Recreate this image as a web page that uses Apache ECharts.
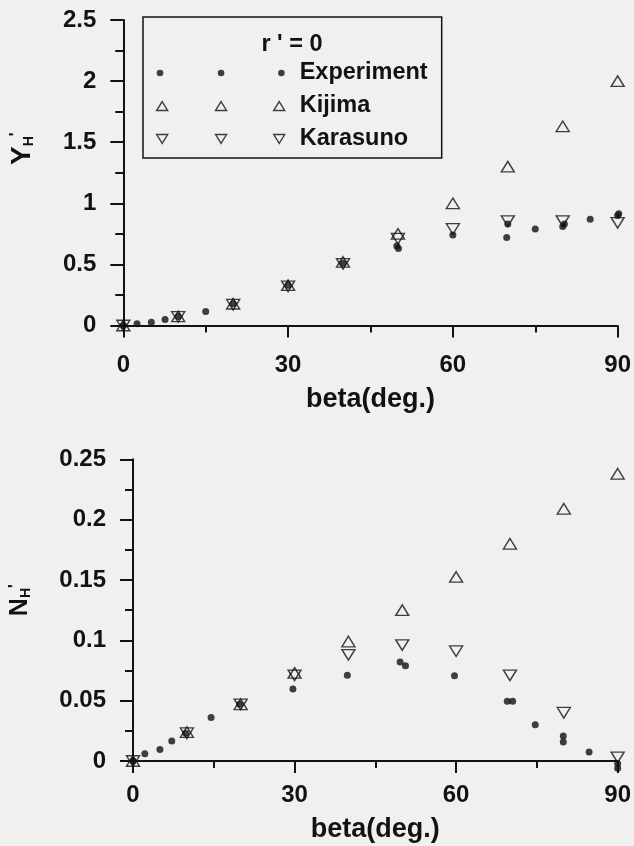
<!DOCTYPE html>
<html>
<head>
<meta charset="utf-8">
<script src="https://cdn.jsdelivr.net/npm/echarts@6/dist/echarts.min.js"></script>
<style>
  html, body { margin: 0; padding: 0; background: #f0f0ee; }
  #chart { width: 634px; height: 846px; }
</style>
</head>
<body>
<div id="chart"></div>
<script>
// Axis ticks
const betaTicks = [0, 30, 60, 90];
const yTicksTop = [0, 0.5, 1, 1.5, 2, 2.5];
const nTicksBottom = [0, 0.05, 0.1, 0.15, 0.2, 0.25];

// Series names
const seriesNames = ['Experiment', 'Kijima', 'Karasuno'];

// Lateral force coefficient Y_H' (r' = 0)
const expBetaY = [0, 2.5, 5.1, 7.6, 10, 15, 20, 30, 40, 49.8, 50.1, 60, 69.8, 70, 75, 80, 80.3, 85, 90, 90.2];
const expY     = [0, 0.014, 0.027, 0.05, 0.074, 0.115, 0.178, 0.33, 0.51, 0.65, 0.63, 0.74, 0.72, 0.83, 0.79, 0.81, 0.83, 0.87, 0.90, 0.915];
const calcBeta = [0, 10, 20, 30, 40, 50, 60, 70, 80, 90];
const kijimaY   = [0, 0.074, 0.178, 0.33, 0.52, 0.75, 1.0, 1.30, 1.63, 2.0];
const karasunoY = [0, 0.07, 0.17, 0.32, 0.505, 0.71, 0.79, 0.855, 0.855, 0.84];

// Yaw moment coefficient N_H' (r' = 0)
const expBetaN = [0, 2.2, 5, 7.2, 9.8, 14.5, 19.8, 29.7, 39.8, 49.6, 50.6, 59.7, 69.5, 70.5, 74.7, 79.9, 79.9, 84.7, 90, 90];
const expN     = [0, 0.006, 0.0096, 0.0165, 0.023, 0.036, 0.047, 0.0596, 0.071, 0.082, 0.079, 0.0706, 0.0496, 0.0496, 0.030, 0.0207, 0.0157, 0.0075, -0.002, -0.006];
const kijimaN   = [0, 0.024, 0.047, 0.073, 0.099, 0.125, 0.1525, 0.18, 0.209, 0.238];
const karasunoN = [0, 0.023, 0.047, 0.071, 0.088, 0.096, 0.091, 0.071, 0.040, 0.003];

const INK = '#121212';
const FONT = '"Liberation Sans", Arial, Helvetica, sans-serif';
const pairs = (xs, ys) => xs.map((x, i) => [x, ys[i]]);

// Marker shapes
const downTriangle = 'path://M0,0L13,0L6.5,10.5Z';
const legendDots = 'path://M2.5,5a3.2,3.2 0 1,0 6.4,0a3.2,3.2 0 1,0 -6.4,0Z' +
                   'M61.5,5a3.2,3.2 0 1,0 6.4,0a3.2,3.2 0 1,0 -6.4,0Z' +
                   'M119.8,5a3.2,3.2 0 1,0 6.4,0a3.2,3.2 0 1,0 -6.4,0Z';
const legendUp = 'path://M0,9L5.5,0L11,9Z M59,9L64.5,0L70,9Z M117.3,9L122.8,0L128.3,9Z';
const legendDown = 'path://M0,0L11,0L5.5,9Z M59,0L70,0L64.5,9Z M117.3,0L128.3,0L122.8,9Z';

const dotStyle = { color: INK };
const openStyle = { color: 'rgba(0,0,0,0)', borderColor: INK, borderWidth: 1.4 };

function xAxisOf(gridIndex, labelMargin, nameGap) {
  return {
    type: 'value', gridIndex,
    min: betaTicks[0], max: betaTicks[betaTicks.length - 1],
    interval: betaTicks[1] - betaTicks[0],
    name: 'beta(deg.)', nameLocation: 'middle', nameGap,
    nameTextStyle: { fontFamily: FONT, fontWeight: 'bold', fontSize: 27, color: INK },
    axisLine: { show: true, onZero: false, lineStyle: { color: INK, width: 2 } },
    axisTick: { show: true, length: 12, lineStyle: { color: INK, width: 2 } },
    minorTick: { show: true, splitNumber: 2, length: 7, lineStyle: { color: INK, width: 2 } },
    splitLine: { show: false },
    axisLabel: { fontFamily: FONT, fontWeight: 'bold', fontSize: 24, color: INK, margin: labelMargin }
  };
}

function yAxisOf(gridIndex, ticks, name, nameGap, shift, big) {
  return {
    type: 'value', gridIndex,
    min: ticks[0], max: ticks[ticks.length - 1],
    interval: ticks[1] - ticks[0],
    name, nameLocation: 'middle', nameRotate: 90, nameGap,
    nameTextStyle: {
      color: INK, padding: [0, 0, 0, shift],
      rich: {
        a: { fontFamily: FONT, fontWeight: 'bold', fontSize: big, lineHeight: big, color: INK },
        b: { fontFamily: FONT, fontWeight: 'bold', fontSize: 14, lineHeight: 8, verticalAlign: 'bottom', color: INK },
        c: { fontFamily: FONT, fontWeight: 'bold', fontSize: 16, lineHeight: 16, verticalAlign: 'top', color: INK }
      }
    },
    axisLine: { show: true, onZero: false, lineStyle: { color: INK, width: 2 } },
    axisTick: { show: true, length: 13, lineStyle: { color: INK, width: 2 } },
    minorTick: { show: true, splitNumber: 2, length: 8, lineStyle: { color: INK, width: 2 } },
    splitLine: { show: false },
    axisLabel: { fontFamily: FONT, fontWeight: 'bold', fontSize: 24, color: INK, margin: 27 }
  };
}

function scatter(name, data, xi, symbol, size, style) {
  return {
    type: 'scatter', name, data, xAxisIndex: xi, yAxisIndex: xi,
    symbol, symbolSize: size, itemStyle: style, clip: false,
    emphasis: { disabled: true }, silent: true
  };
}

const chart = echarts.init(document.getElementById('chart'), null, { renderer: 'canvas' });
chart.setOption({
  backgroundColor: '#f0f0ee',
  animation: false,
  grid: [
    { left: 123.3, top: 20, width: 495, height: 305.5 },
    { left: 127, top: 459.3, width: 495.6, height: 301.7 }
  ],
  xAxis: [xAxisOf(0, 28, 61), xAxisOf(1, 22, 55)],
  yAxis: [
    yAxisOf(0, yTicksTop, '{a|Y}{b|H}{c|\'}', 87, 48, 28),
    yAxisOf(1, nTicksBottom, '{a|N}{b|H}{c|\'}', 100, 20, 25)
  ],
  legend: {
    orient: 'vertical', left: 143, top: 17,
    padding: [44, 14, 7, 13], itemGap: 9,
    itemWidth: 128, itemHeight: 10,
    borderColor: INK, borderWidth: 1.5, borderRadius: 0,
    selectedMode: false,
    textStyle: { fontFamily: FONT, fontWeight: 'bold', fontSize: 23.5, color: INK, padding: [0, 0, 0, 10] },
    data: [
      { name: seriesNames[0], icon: legendDots, itemStyle: { color: INK, borderWidth: 0 } },
      { name: seriesNames[1], icon: legendUp, itemStyle: openStyle },
      { name: seriesNames[2], icon: legendDown, itemStyle: openStyle }
    ]
  },
  graphic: [{
    type: 'text', x: 292, y: 45,
    style: { text: "r ' = 0", fontFamily: FONT, fontWeight: 'bold', fontSize: 23.5, fill: INK,
             align: 'center', verticalAlign: 'middle' }
  }],
  series: [
    scatter(seriesNames[0], pairs(expBetaY, expY), 0, 'circle', 7, dotStyle),
    scatter(seriesNames[1], pairs(calcBeta, kijimaY), 0, 'triangle', [13, 10.5], openStyle),
    scatter(seriesNames[2], pairs(calcBeta, karasunoY), 0, downTriangle, [13, 10.5], openStyle),
    scatter(seriesNames[0], pairs(expBetaN, expN), 1, 'circle', 7, dotStyle),
    scatter(seriesNames[1], pairs(calcBeta, kijimaN), 1, 'triangle', [13, 10.5], openStyle),
    scatter(seriesNames[2], pairs(calcBeta, karasunoN), 1, downTriangle, [13, 10.5], openStyle)
  ]
});
</script>
</body>
</html>
